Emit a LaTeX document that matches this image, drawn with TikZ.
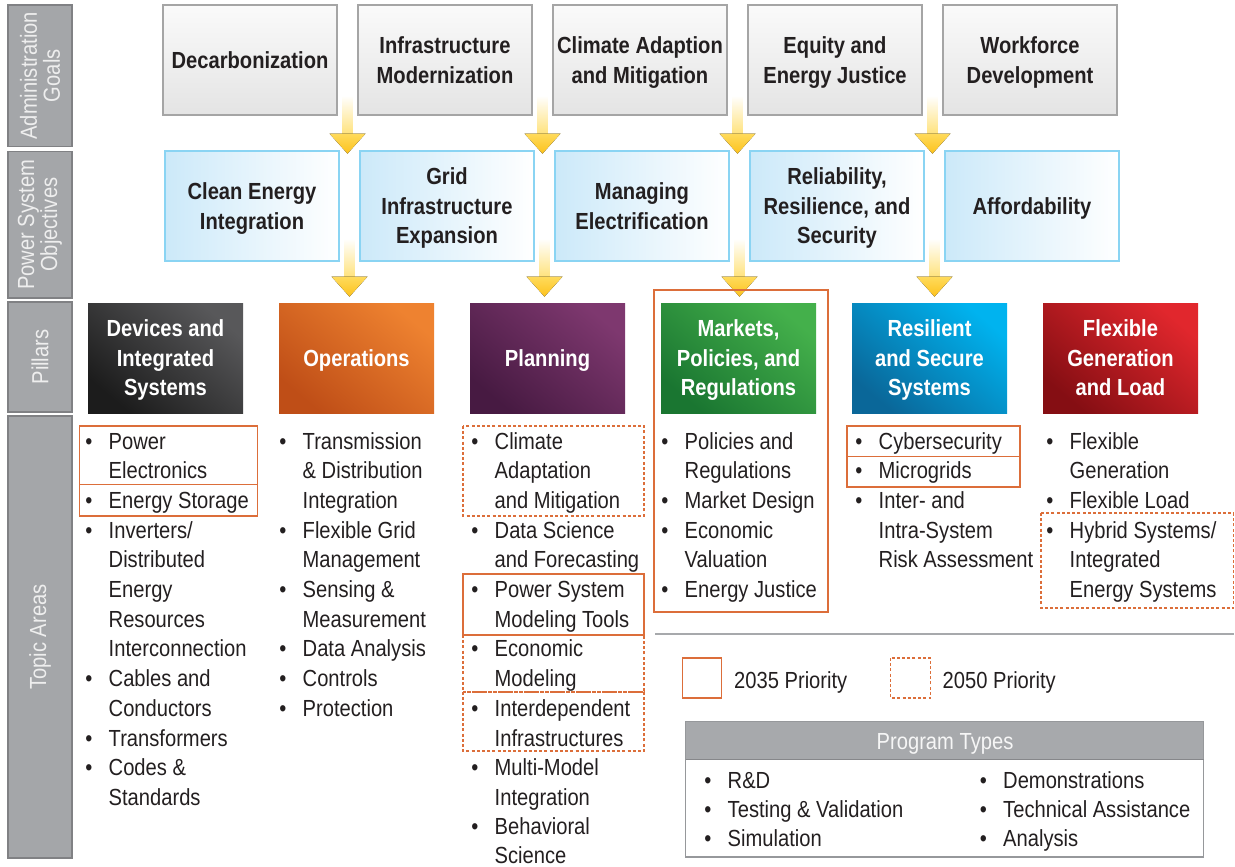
\documentclass[tikz,border=0pt]{standalone}
\usepackage{fontspec}
\setmainfont{Liberation Sans}[FakeStretch=0.865]
\usetikzlibrary{calc}
\definecolor{ink}{HTML}{231F20}
\definecolor{pri}{HTML}{DC6E3A}
\definecolor{side}{HTML}{A4A6A9}
\definecolor{sideline}{HTML}{808184}
\definecolor{sidetext}{HTML}{EEEEEE}
\definecolor{goalA}{HTML}{FAFAFA}
\definecolor{goalB}{HTML}{E4E4E4}
\definecolor{goalline}{HTML}{A5A5A5}
\definecolor{objA}{HTML}{CCE9F9}
\definecolor{objline}{HTML}{8AD4F3}
\definecolor{arrY}{HTML}{FCC21D}
\definecolor{arrL}{HTML}{FFDB5C}
\definecolor{devA}{HTML}{1C1C1C}\definecolor{devB}{HTML}{58585A}
\definecolor{opA}{HTML}{BF4E17}\definecolor{opB}{HTML}{EE8230}
\definecolor{plA}{HTML}{471A42}\definecolor{plB}{HTML}{7E386F}
\definecolor{mkA}{HTML}{1A7631}\definecolor{mkB}{HTML}{44B04B}
\definecolor{rsA}{HTML}{0A6799}\definecolor{rsB}{HTML}{00B3EF}
\definecolor{flA}{HTML}{850E13}\definecolor{flB}{HTML}{E1272D}
\definecolor{hdr}{HTML}{A7A9AC}
\newcommand\fsz{\fontsize{23.3}{29.6}\selectfont}
\newcommand\fside{\fontsize{23.3}{23}\selectfont}
\newcommand\tstrut{\rule{0pt}{22pt}}
\newcommand\bstrut{\rule[-5.3pt]{0pt}{5.3pt}}
\newcommand\topic[4]{%
  \node[bul] (#1-b) at (#2, #3+8.3) {\textbullet};
  \foreach \myline [count=\k from 0] in {#4} {\node[tline] (#1-\k) at (#2+19.5, #3+8.3+\k*29.67) {\myline};}
}
\begin{document}
\begin{tikzpicture}[x=1pt,y=-1pt,
  sidebox/.style={draw=sideline, line width=1.3pt, fill=side, rotate=90, minimum height=64pt, inner sep=0, align=center, font=\fside, text=sidetext},
  boxtext/.style={align=center, font=\fsz\bfseries, inner sep=0},
  goalbox/.style={boxtext, draw=goalline, line width=1.2pt, top color=goalA, bottom color=goalB, minimum width=174pt, minimum height=110pt, text=ink},
  objbox/.style={boxtext, draw=objline, line width=1.2pt, left color=objA, right color=white, minimum width=174pt, minimum height=110pt, text=ink},
  pillar/.style 2 args={boxtext, bottom color=#1, top color=#2, shading angle=-40, minimum width=155pt, minimum height=110pt, text=white},
  bul/.style={anchor=base, inner sep=0, font=\fsz, text=ink},
  tline/.style={anchor=base west, inner sep=0, font=\fsz, text=ink},
  p35/.style={draw=pri, line width=1.4pt},
  p50/.style={draw=pri, line width=1.4pt, dash pattern=on 3pt off 2.2pt},
  fatarrow/.pic={
    \fill[top color=white, bottom color=arrL!80] (-5,0) rectangle (5,38.5);
    \fill[top color=arrL, bottom color=arrY] (-18,38) -- (18,38) -- (0,58) -- cycle;
  }]
\useasboundingbox (0,0) rectangle (1235,867);

% side labels
\node[sidebox, minimum width=141.5pt] (s1) at (40,75.75) {Administration\\Goals};
\node[sidebox, minimum width=146.5pt] (s2) at (40,224.75) {Power System\\Objectives};
\node[sidebox, minimum width=110pt] (s3) at (40,357) {Pillars};
\node[sidebox, minimum width=442pt] (s4) at (40,637) {Topic Areas};

% goals
\node[goalbox] (g1) at (250,60) {\tstrut Decarbonization\bstrut};
\node[goalbox] (g2) at (445,60) {\tstrut Infrastructure\\Modernization\bstrut};
\node[goalbox] (g3) at (640,60) {\tstrut Climate Adaption\\and Mitigation\bstrut};
\node[goalbox] (g4) at (835,60) {\tstrut Equity and\\Energy Justice\bstrut};
\node[goalbox] (g5) at (1030,60) {\tstrut Workforce\\Development\bstrut};

% objectives
\node[objbox] (o1) at (252,206) {\tstrut Clean Energy\\Integration\bstrut};
\node[objbox] (o2) at (447,206) {\tstrut Grid\\Infrastructure\\Expansion\bstrut};
\node[objbox] (o3) at (642,206) {\tstrut Managing\\Electrification\bstrut};
\node[objbox] (o4) at (837,206) {\tstrut Reliability,\\Resilience, and\\Security\bstrut};
\node[objbox] (o5) at (1032,206) {\tstrut Affordability\bstrut};

% arrows
\foreach \a/\b in {g1/g2,g2/g3,g3/g4,g4/g5}{
  \pic at ($(\a.south east)!0.5!(\b.south west)+(0,-20)$) {fatarrow};
}
\foreach \a/\b in {o1/o2,o2/o3,o3/o4,o4/o5}{
  \pic at ($(\a.south east)!0.5!(\b.south west)+(0,-23)$) {fatarrow};
}

% pillars
\node[pillar={devA}{devB}] (p1) at (165.5,358) {\tstrut Devices and\\Integrated\\Systems\bstrut};
\node[pillar={opA}{opB}] (p2) at (356.5,358) {\tstrut Operations\bstrut};
\node[pillar={plA}{plB}] (p3) at (547.5,358) {\tstrut Planning\bstrut};
\node[pillar={mkA}{mkB}] (p4) at (738.5,358) {\tstrut Markets,\\Policies, and\\Regulations\bstrut};
\node[pillar={rsA}{rsB}] (p5) at (929.5,358) {\tstrut Resilient\\and Secure\\Systems\bstrut};
\node[pillar={flA}{flB}] (p6) at (1120.5,358) {\tstrut Flexible\\Generation\\and Load\bstrut};

% topic areas
\topic{d1}{89}{441}{Power,Electronics}
\topic{d2}{89}{441+2*29.67}{Energy Storage}
\topic{d3}{89}{441+3*29.67}{Inverters/,Distributed,Energy,Resources,Interconnection}
\topic{d4}{89}{441+8*29.67}{Cables and,Conductors}
\topic{d5}{89}{441+10*29.67}{Transformers}
\topic{d6}{89}{441+11*29.67}{Codes \&,Standards}

\topic{o-1}{283}{441}{Transmission,\& Distribution,Integration}
\topic{o-2}{283}{441+3*29.67}{Flexible Grid,Management}
\topic{o-3}{283}{441+5*29.67}{Sensing \&,Measurement}
\topic{o-4}{283}{441+7*29.67}{Data Analysis}
\topic{o-5}{283}{441+8*29.67}{Controls}
\topic{o-6}{283}{441+9*29.67}{Protection}

\topic{l1}{475}{441}{Climate,Adaptation,and Mitigation}
\topic{l2}{475}{441+3*29.67}{Data Science,and Forecasting}
\topic{l3}{475}{441+5*29.67}{Power System,Modeling Tools}
\topic{l4}{475}{441+7*29.67}{Economic,Modeling}
\topic{l5}{475}{441+9*29.67}{Interdependent,Infrastructures}
\topic{l6}{475}{441+11*29.67}{Multi-Model,Integration}
\topic{l7}{475}{440+13*29.67}{Behavioral,Science}

\topic{m1}{665}{441}{Policies and,Regulations}
\topic{m2}{665}{441+2*29.67}{Market Design}
\topic{m3}{665}{441+3*29.67}{Economic,Valuation}
\topic{m4}{665}{441+5*29.67}{Energy Justice}

\topic{r1}{859}{441}{Cybersecurity}
\topic{r2}{859}{441+1*29.67}{Microgrids}
\topic{r3}{859}{441+2*29.67}{Inter- and,Intra-System,Risk Assessment}

\topic{f1}{1050}{441}{Flexible,Generation}
\topic{f2}{1050}{441+2*29.67}{Flexible Load}
\topic{f3}{1050}{441+3*29.67}{Hybrid Systems/,Integrated,Energy Systems}

% priority frames
\draw[p35] (79.5,426) rectangle (257.5,484.5);
\draw[p35] (79.5,484.5) rectangle (257.5,516);
\draw[p50] (463,426) rectangle (644,516);
\draw[p35] (463,574) rectangle (644,635);
\draw[p50] (463,635) rectangle (644,692);
\draw[p50] (463,692) rectangle (644,751);
\draw[p35] (654,290) rectangle (828,612);
\draw[p35] (847,426) rectangle (1020,456.5);
\draw[p35] (847,456.5) rectangle (1020,487);
\draw[p50] (1041,513) rectangle (1233.5,608);

% separator
\draw[line width=2pt, draw=hdr] (655,634) -- (1234,634);

% legend
\draw[p35] (682.5,658) rectangle (721.5,698);
\node[tline] (lg1) at (734,688.3) {2035 Priority};
\draw[p50] (890.5,658) rectangle (930.5,698);
\node[tline] (lg2) at (942.5,688.3) {2050 Priority};

% program types
\fill[hdr] (685.5,721.5) rectangle (1203.5,759.5);
\draw[line width=1.2pt, draw=hdr!90!black] (685.5,721.5) rectangle (1203.5,857);
\draw[line width=1.2pt, draw=hdr!80!black] (685.5,759.5) -- (1203.5,759.5);
\node[tline, text=white!93!gray] (pt) at (876.5,749.3) {Program Types};
\topic{t1}{708}{780}{R\&D}
\topic{t2}{708}{809}{Testing \& Validation}
\topic{t3}{708}{838}{Simulation}
\topic{t4}{983.5}{780}{Demonstrations}
\topic{t5}{983.5}{809}{Technical Assistance}
\topic{t6}{983.5}{838}{Analysis}
\end{tikzpicture}
\end{document}
